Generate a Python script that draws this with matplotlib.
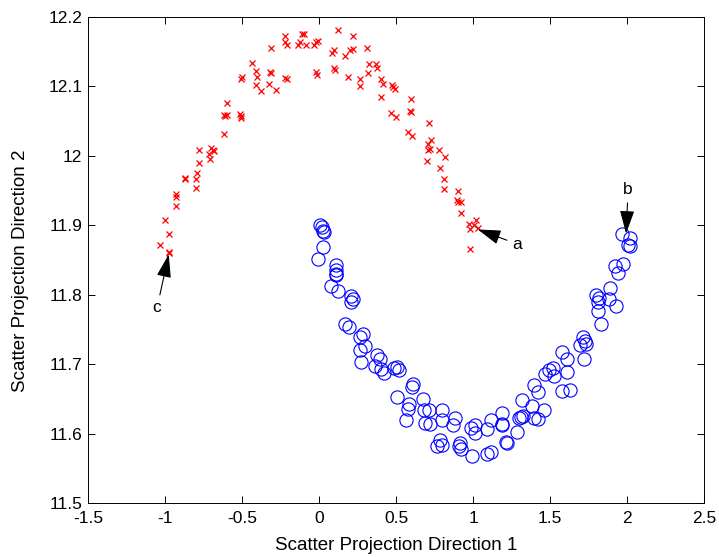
import numpy as np
import matplotlib.pyplot as plt

plt.rcParams['font.family'] = ['Liberation Sans', 'DejaVu Sans']

#=============================================================================#
## data
# upper moon (red crosses)
red_x = [-1.03, -1.003, -0.976, -0.976, -0.972, -0.93, -0.93, -0.928, -0.872, -0.868,
         -0.80, -0.80, -0.79, -0.78, -0.78, -0.715, -0.705, -0.70, -0.69, -0.68,
         -0.62, -0.615, -0.61, -0.60, -0.595, -0.515, -0.508, -0.508, -0.51, -0.50,
         -0.434, -0.41, -0.405, -0.41, -0.38, -0.327, -0.32, -0.312, -0.31, -0.277,
         -0.22, -0.21, -0.22, -0.22, -0.21, -0.137, -0.125, -0.11, -0.10, -0.086,
         -0.03, -0.018, -0.006, -0.02, -0.012, 0.086, 0.095, 0.095, 0.104, 0.125,
         0.17, 0.188, 0.202, 0.223, 0.223, 0.265, 0.268, 0.31, 0.315, 0.324,
         0.372, 0.378, 0.40, 0.418, 0.40, 0.47, 0.50, 0.473, 0.482, 0.49,
         0.598, 0.59, 0.598, 0.58, 0.60, 0.714, 0.71, 0.72, 0.725, 0.70,
         0.705, 0.777, 0.818, 0.786, 0.81, 0.81, 0.90, 0.893, 0.90, 0.92,
         0.922, 0.976, 0.982, 1.018, 1.03, 1.005, 0.982]
red_y = [11.871, 11.908, 11.888, 11.862, 11.860, 11.945, 11.940, 11.928, 11.968, 11.966,
         11.953, 11.966, 11.976, 11.990, 12.009, 12.003, 11.996, 12.011, 12.009, 12.007,
         12.032, 12.059, 12.057, 12.059, 12.076, 12.060, 12.058, 12.055, 12.110, 12.113,
         12.134, 12.122, 12.113, 12.102, 12.093, 12.104, 12.121, 12.119, 12.156, 12.095,
         12.112, 12.110, 12.173, 12.164, 12.159, 12.160, 12.164, 12.175, 12.175, 12.160,
         12.160, 12.164, 12.166, 12.121, 12.117, 12.148, 12.153, 12.126, 12.123, 12.181,
         12.144, 12.114, 12.152, 12.173, 12.154, 12.110, 12.101, 12.156, 12.120, 12.133,
         12.133, 12.126, 12.110, 12.104, 12.085, 12.062, 12.056, 12.102, 12.099, 12.096,
         12.082, 12.064, 12.063, 12.035, 12.029, 12.048, 12.017, 12.010, 12.023, 11.993,
         12.009, 12.009, 11.999, 11.982, 11.966, 11.952, 11.950, 11.937, 11.934, 11.934,
         11.918, 11.902, 11.895, 11.907, 11.896, 11.900, 11.866]

# lower moon (blue circles)
blue_x = [0.009, 0.018, 0.027, 0.033, 0.027, -0.009, 0.107, 0.11, 0.107, 0.11,
          0.08, 0.125, 0.21, 0.22, 0.21, 0.17, 0.196, 0.283, 0.265, 0.298,
          0.268, 0.27, 0.378, 0.393, 0.36, 0.405, 0.42, 0.485, 0.509, 0.52,
          0.607, 0.60, 0.509, 0.586, 0.577, 0.565, 0.676, 0.679, 0.687, 0.711,
          0.723, 0.795, 0.80, 0.768, 0.786, 0.80, 0.88, 0.872, 0.914, 0.923,
          0.91, 0.994, 0.985, 1.01, 1.009, 1.089, 1.116, 1.119, 1.089, 1.19,
          1.19, 1.188, 1.211, 1.22, 1.283, 1.295, 1.318, 1.327, 1.31, 1.396,
          1.423, 1.384, 1.393, 1.423, 1.46, 1.467, 1.49, 1.52, 1.527, 1.574,
          1.607, 1.577, 1.628, 1.61, 1.696, 1.714, 1.726, 1.732, 1.723, 1.795,
          1.818, 1.81, 1.827, 1.812, 1.887, 1.884, 1.929, 1.92, 1.94, 1.976,
          1.964, 2.021, 2.006, 2.018]
blue_y = [11.901, 11.898, 11.892, 11.890, 11.868, 11.852, 11.843, 11.836, 11.830, 11.828,
          11.813, 11.806, 11.798, 11.794, 11.790, 11.758, 11.753, 11.744, 11.739, 11.726,
          11.721, 11.703, 11.713, 11.707, 11.698, 11.693, 11.687, 11.695, 11.696, 11.692,
          11.671, 11.667, 11.653, 11.643, 11.636, 11.619, 11.650, 11.634, 11.615, 11.634,
          11.614, 11.634, 11.619, 11.582, 11.590, 11.584, 11.622, 11.613, 11.586, 11.578,
          11.582, 11.568, 11.608, 11.613, 11.601, 11.606, 11.620, 11.574, 11.570, 11.630,
          11.614, 11.612, 11.588, 11.586, 11.602, 11.623, 11.648, 11.625, 11.624, 11.670,
          11.660, 11.639, 11.622, 11.621, 11.634, 11.686, 11.692, 11.695, 11.683, 11.718,
          11.707, 11.662, 11.663, 11.689, 11.727, 11.739, 11.733, 11.729, 11.708, 11.800,
          11.795, 11.777, 11.758, 11.790, 11.810, 11.794, 11.784, 11.841, 11.831, 11.844,
          11.888, 11.882, 11.872, 11.870]

# annotations: label, arrow tip (x, y), text position (x, y)
ann_labels = ['a', 'b', 'c']
ann_tips = [(1.03, 11.894), (1.993, 11.888), (-0.976, 11.858)]
ann_texts = [(1.286, 11.873), (2.006, 11.951), (-1.052, 11.781)]

xticks = [-1.5, -1, -0.5, 0, 0.5, 1, 1.5, 2, 2.5]
yticks = [11.5, 11.6, 11.7, 11.8, 11.9, 12, 12.1, 12.2]

#=============================================================================#
fig = plt.figure(figsize=(7.19, 5.57), dpi=100)
ax = fig.add_axes([0.1224, 0.097, 0.857, 0.8725])

ax.plot(red_x, red_y, 'x', color='red', markersize=5, markeredgewidth=0.9)
ax.plot(blue_x, blue_y, 'o', markerfacecolor='none', markeredgecolor='blue',
        markersize=9.5, markeredgewidth=0.8)

for lab, tip, txt in zip(ann_labels, ann_tips, ann_texts):
    ax.annotate(lab, xy=tip, xytext=txt, fontsize=12.5, ha='center', va='center',
                arrowprops=dict(arrowstyle='-|>,head_length=1.15,head_width=0.36',
                                color='black', lw=0.8, shrinkA=2, shrinkB=0))

ax.set_xlim(-1.5, 2.5)
ax.set_ylim(11.5, 12.2)
ax.set_xticks(xticks)
ax.set_xticklabels(['-1.5', '-1', '-0.5', '0', '0.5', '1', '1.5', '2', '2.5'])
ax.set_yticks(yticks)
ax.set_yticklabels(['11.5', '11.6', '11.7', '11.8', '11.9', '12', '12.1', '12.2'])
ax.tick_params(direction='in', top=True, right=True, labelsize=12.5, length=5, width=0.7)
ax.tick_params(axis='x', pad=6)
ax.tick_params(axis='y', pad=4)
for s in ax.spines.values():
    s.set_linewidth(0.7)

ax.set_xlabel('Scatter Projection Direction 1', fontsize=13.5, va='center')
ax.xaxis.set_label_coords(0.5, -0.0885)
ax.set_ylabel('Scatter Projection Direction 2', fontsize=13.5, va='center')
ax.yaxis.set_label_coords(-0.109, 0.477)

plt.savefig('out.png', dpi=100)
